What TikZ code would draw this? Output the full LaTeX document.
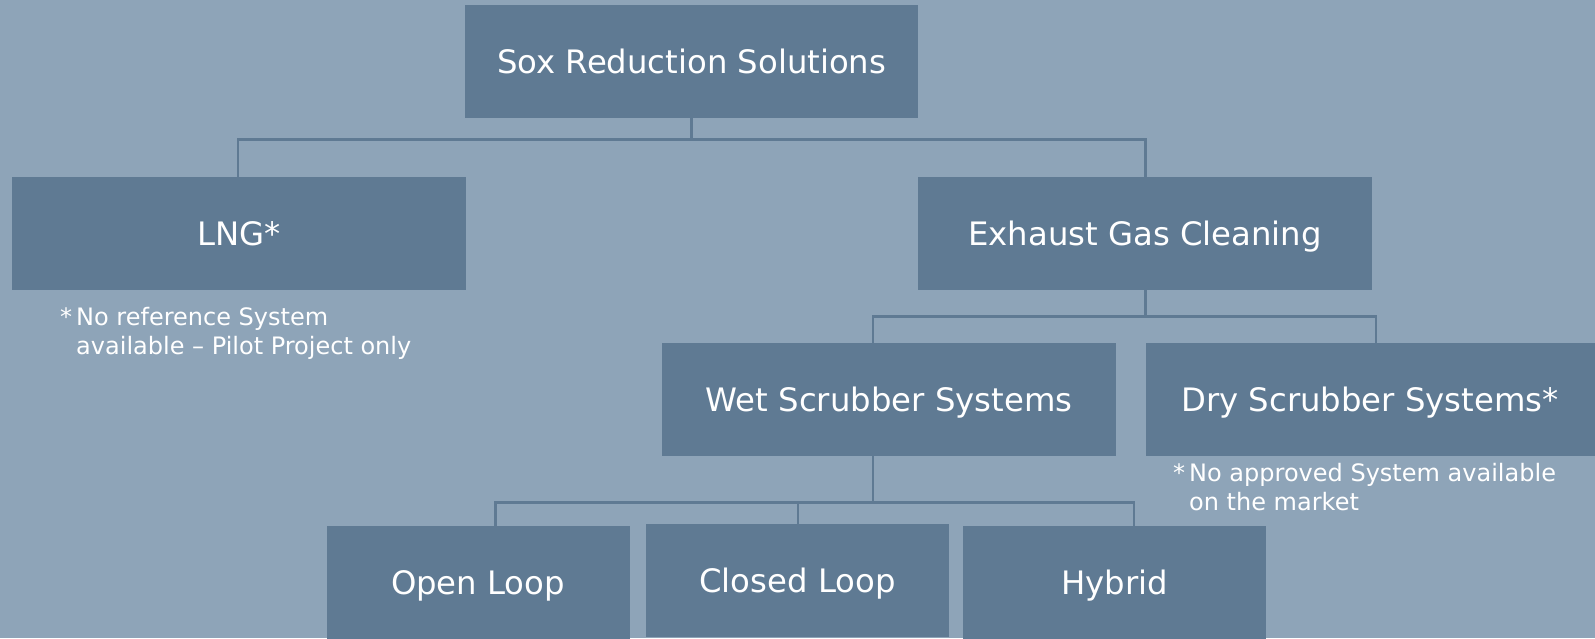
\documentclass[tikz,border=0pt]{standalone}
\usepackage{fontspec}
\setmainfont{DejaVu Sans}
\definecolor{bgc}{RGB}{142,164,184}
\definecolor{boxc}{RGB}{95,122,147}
\begin{document}
\begin{tikzpicture}[x=1pt,y=-1pt,
  box/.style={fill=boxc,draw=none,text=white,minimum height=113pt,inner sep=0pt,text height=24.5pt,text depth=0pt,font=\fontsize{32.3}{36}\selectfont},
  wide/.style={box,minimum width=454pt},
  narrow/.style={box,minimum width=303pt},
  link/.style={draw=boxc,line width=2.5pt},
  note/.style={text=white,align=left,anchor=north west,inner sep=0pt,font=\fontsize{24}{29}\selectfont}]
\useasboundingbox (0,0) rectangle (1595,638);
\clip (0,0) rectangle (1595,638);
\fill[bgc] (0,0) rectangle (1595,638);
% boxes
\node[wide,minimum width=453.5pt] (top) at (691.7,61.5) {Sox Reduction Solutions};
\node[wide] (lng) at (239,233.5) {LNG*};
\node[wide] (egc) at (1145,233.5) {Exhaust Gas Cleaning};
\node[wide] (wet) at (889,399.5) {Wet Scrubber Systems};
\node[wide] (dry) at (1373,399.5) {\hspace*{-6pt}Dry Scrubber Systems*};
\node[narrow] (ol) at (478,582.5) {Open Loop};
\node[narrow] (cl) at (797.5,580.5) {Closed Loop};
\node[narrow] (hy) at (1114.5,582.5) {Hybrid};
% notes
\node[note] (n1) at (60,307) {\makebox[16pt][l]{*}No reference System\\\hspace*{16pt}available – Pilot Project only};
\node[note] (n2) at (1173,463) {\makebox[16pt][l]{*}No approved System available\\\hspace*{16pt}on the market};
% bus coordinates
\coordinate (t0) at (691.7,139.5);
\coordinate (t1) at (238,139.5);
\coordinate (t2) at (1145.5,139.5);
\coordinate (e0) at (1145.5,316.5);
\coordinate (e1) at (873,316.5);
\coordinate (e2) at (1376,316.5);
\coordinate (w0) at (873,502.7);
\coordinate (w1) at (495.5,502.7);
\coordinate (w2) at (798,502.7);
\coordinate (w3) at (1134,502.7);
% connectors
\draw[link] (top.south) -- (t0);
\draw[link] (t1 |- lng.north) -- (t1) -- (t2) -- (t2 |- egc.north);
\draw[link] (e0 |- egc.south) -- (e0);
\draw[link] (e1 |- wet.north) -- (e1) -- (e2) -- (e2 |- dry.north);
\draw[link] (w0 |- wet.south) -- (w0);
\draw[link] (w1 |- ol.north) -- (w1) -- (w3) -- (w3 |- hy.north);
\draw[link] (w2) -- (w2 |- cl.north);
\end{tikzpicture}
\end{document}
